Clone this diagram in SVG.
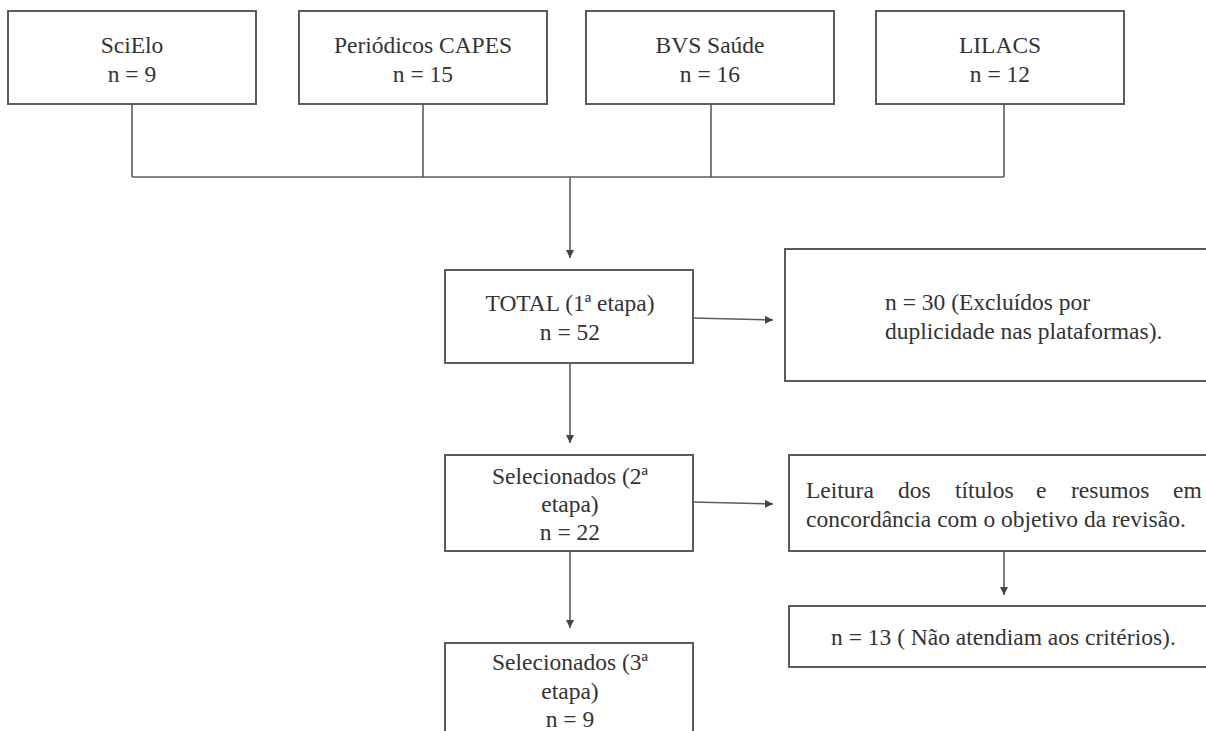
<svg xmlns="http://www.w3.org/2000/svg" width="1206" height="731" viewBox="0 0 1206 731">
<style>
  .box{fill:#fff;stroke:#5c5c5c;stroke-width:2}
  .t{font-family:"Liberation Serif","Times New Roman",serif;font-size:23.5px;fill:#333;text-anchor:middle}
  .tl{font-family:"Liberation Serif","Times New Roman",serif;font-size:23.5px;fill:#333;text-anchor:start}
  .ln{fill:none;stroke:#5c5c5c;stroke-width:1.6}
</style>
<defs>
  <marker id="ah" viewBox="0 0 10 10" refX="10" refY="5" markerWidth="8" markerHeight="8" markerUnits="userSpaceOnUse" orient="auto">
    <path d="M0,0 L10,5 L0,10 z" fill="#444"/>
  </marker>
</defs>
<rect width="1206" height="731" fill="#fff"/>

<g id="connectors">
  <path class="ln" d="M132,104 V177 M423,104 V177 M711,104 V177 M1004,104 V177 M132,177 H1004"/>
  <path class="ln" d="M570,177 V258" marker-end="url(#ah)"/>
  <path class="ln" d="M693,318 L773,320" marker-end="url(#ah)"/>
  <path class="ln" d="M570,363 V443" marker-end="url(#ah)"/>
  <path class="ln" d="M693,502 L773,504" marker-end="url(#ah)"/>
  <path class="ln" d="M570,551 V628" marker-end="url(#ah)"/>
  <path class="ln" d="M1004,551 V595" marker-end="url(#ah)"/>
</g>

<g id="scielo">
  <rect class="box" x="8" y="11" width="248" height="93"/>
  <text class="t" x="132" y="53">SciElo</text>
  <text class="t" x="132" y="82">n = 9</text>
</g>
<g id="capes">
  <rect class="box" x="299" y="11" width="248" height="93"/>
  <text class="t" x="423" y="53">Periódicos CAPES</text>
  <text class="t" x="423" y="82">n = 15</text>
</g>
<g id="bvs">
  <rect class="box" x="586" y="11" width="248" height="93"/>
  <text class="t" x="710" y="53">BVS Saúde</text>
  <text class="t" x="710" y="82">n = 16</text>
</g>
<g id="lilacs">
  <rect class="box" x="876" y="11" width="248" height="93"/>
  <text class="t" x="1000" y="53">LILACS</text>
  <text class="t" x="1000" y="82">n = 12</text>
</g>

<g id="total">
  <rect class="box" x="445" y="270" width="248" height="93"/>
  <text class="t" x="570" y="311">TOTAL (1ª etapa)</text>
  <text class="t" x="570" y="340">n = 52</text>
</g>
<g id="excluidos">
  <rect class="box" x="785" y="249" width="440" height="132"/>
  <text class="tl" x="885" y="310">n = 30 (Excluídos por</text>
  <text class="tl" x="885" y="339">duplicidade nas plataformas).</text>
</g>

<g id="sel2">
  <rect class="box" x="445" y="455" width="248" height="96"/>
  <text class="t" x="570" y="484">Selecionados (2ª</text>
  <text class="t" x="570" y="512">etapa)</text>
  <text class="t" x="570" y="540">n = 22</text>
</g>
<g id="leitura">
  <rect class="box" x="789" y="455" width="440" height="96"/>
  <text class="tl" y="498"><tspan x="806">Leitura</tspan><tspan x="898">dos</tspan><tspan x="955">títulos</tspan><tspan x="1036">e</tspan><tspan x="1071">resumos</tspan><tspan x="1173">em</tspan></text>
  <text class="tl" x="806" y="527">concordância com o objetivo da revisão.</text>
</g>

<g id="naoatendiam">
  <rect class="box" x="789" y="606" width="440" height="61"/>
  <text class="tl" x="831" y="645">n = 13 ( Não atendiam aos critérios).</text>
</g>

<g id="sel3">
  <rect class="box" x="445" y="643" width="248" height="110"/>
  <text class="t" x="570" y="670">Selecionados (3ª</text>
  <text class="t" x="570" y="699">etapa)</text>
  <text class="t" x="570" y="727">n = 9</text>
</g>
</svg>
